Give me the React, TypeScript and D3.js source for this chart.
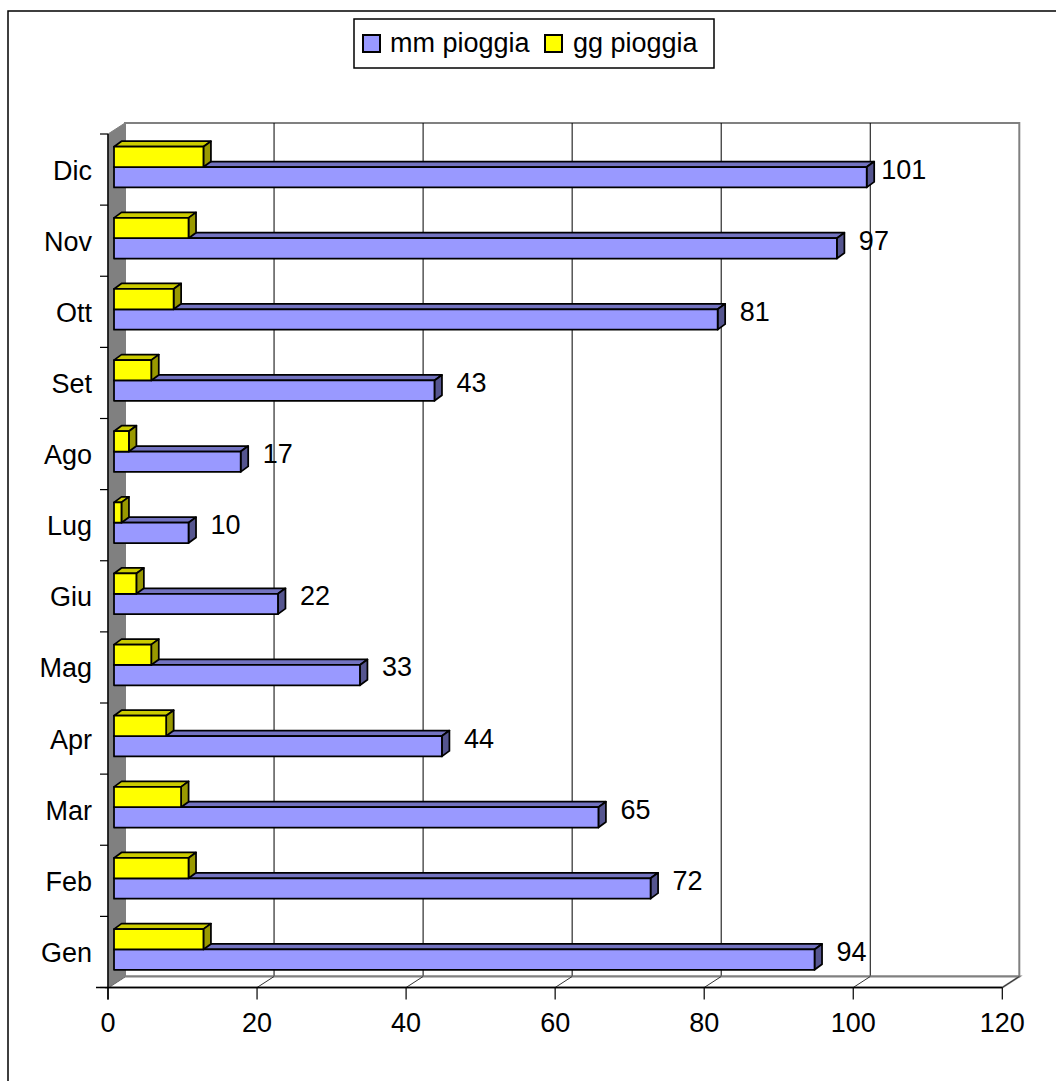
import React from "react";
import * as d3 from "d3";

// Monthly rainfall: millimetres and rainy days
const months = ["Gen", "Feb", "Mar", "Apr", "Mag", "Giu", "Lug", "Ago", "Set", "Ott", "Nov", "Dic"];
const mmPioggia = [94, 72, 65, 44, 33, 22, 10, 17, 43, 81, 97, 101];
const ggPioggia = [12, 10, 9, 7, 5, 3, 1, 2, 5, 8, 10, 12];
const xTicks = [0, 20, 40, 60, 80, 100, 120];
const seriesNames = ["mm pioggia", "gg pioggia"];

const W = 1056;
const H = 1081;
const FONT = "'Liberation Sans', Arial, sans-serif";
const FS = 27;

// oblique depth of the plot box, and of each bar inside it
const DX = 17, DY = -11;
const FX = 6, FY = -2.5;
const BX = 7.5, BY = -5.5;

const blue = { front: "#9999FF", top: "#7373C0", side: "#55558F" };
const yellow = { front: "#FFFF00", top: "#CCCC00", side: "#999900" };

type Shade = { front: string; top: string; side: string };

function Bar({ x0, x1, top, h, c }: { x0: number; x1: number; top: number; h: number; c: Shade }) {
  const pts = (a: number[][]) => a.map((p) => p.join(",")).join(" ");
  return (
    <g stroke="#000" strokeWidth={1.75} strokeLinejoin="round">
      <polygon fill={c.top} points={pts([[x0, top], [x0 + BX, top + BY], [x1 + BX, top + BY], [x1, top]])} />
      <polygon fill={c.side} points={pts([[x1, top], [x1 + BX, top + BY], [x1 + BX, top + h + BY], [x1, top + h]])} />
      <rect x={x0} y={top} width={Math.max(0, x1 - x0)} height={h} fill={c.front} />
    </g>
  );
}

export default function App() {
  const x = d3.scaleLinear().domain([0, 120]).range([108, 1002.3]);
  const y = d3
    .scaleBand<string>()
    .domain(months)
    .range([987.5, 134])
    .paddingInner(1.5 / 3.5)
    .paddingOuter(0.75 / 3.5);
  const inner = d3.scaleBand<string>().domain(["gg", "mm"]).range([0, y.bandwidth()]);

  const [x0, x1] = x.range();
  const yTop = 134;
  const yBot = 987.5;
  const step = y.step();
  const boundaries = d3.range(months.length + 1).map((i) => yBot - i * step);

  return (
    <svg width={W} height={H} style={{ position: "absolute", left: 0, top: 0, background: "#fff" }} fontFamily={FONT}>
      {/* chart frame */}
      <rect x={8} y={11} width={1200} height={1200} fill="#fff" stroke="#000" strokeWidth={1.5} />

      {/* back wall */}
      <rect x={x0 + DX} y={yTop + DY} width={x1 - x0} height={yBot - yTop} fill="#fff" stroke="#808080" strokeWidth={2} />
      {xTicks.slice(1, -1).map((t) => (
        <line key={t} x1={x(t) + DX} x2={x(t) + DX} y1={yTop + DY} y2={yBot + DY} stroke="#000" strokeWidth={1} />
      ))}

      {/* floor */}
      <polygon
        points={`${x0},${yBot} ${x0 + DX},${yBot + DY} ${x1 + DX},${yBot + DY} ${x1},${yBot}`}
        fill="#fff"
        stroke="#808080"
        strokeWidth={2}
      />
      {xTicks.map((t) => (
        <line key={t} x1={x(t)} x2={x(t) + DX} y1={yBot} y2={yBot + DY} stroke="#333" strokeWidth={1} />
      ))}

      {/* side wall */}
      <polygon
        points={`${x0},${yTop} ${x0 + DX},${yTop + DY} ${x0 + DX},${yBot + DY} ${x0},${yBot}`}
        fill="#808080"
        stroke="#808080"
        strokeWidth={1}
      />

      {/* axes */}
      <line x1={x0} x2={x0} y1={yTop} y2={yBot + 12} stroke="#000" strokeWidth={1.5} />
      <line x1={x0 - 12} x2={x1} y1={yBot} y2={yBot} stroke="#000" strokeWidth={1.5} />
      {boundaries.map((b, i) => (
        <line key={i} x1={x0 - 8} x2={x0} y1={b} y2={b} stroke="#000" strokeWidth={1.2} />
      ))}
      {xTicks.map((t) => (
        <g key={t}>
          <line x1={x(t)} x2={x(t)} y1={yBot} y2={yBot + 12} stroke="#000" strokeWidth={1.2} />
          <text x={x(t)} y={1032} textAnchor="middle" fontSize={FS} fill="#000">
            {t}
          </text>
        </g>
      ))}
      {months.map((m) => (
        <text
          key={m}
          x={92}
          y={(y(m) ?? 0) + y.bandwidth() / 2 + 1}
          textAnchor="end"
          dominantBaseline="central"
          fontSize={FS}
          fill="#000"
        >
          {m}
        </text>
      ))}

      {/* bars: blue first so the yellow bar sits in front of its top face */}
      {months.map((m, i) => {
        const b = y(m) ?? 0;
        return (
          <g key={m}>
            <Bar x0={x(0) + FX} x1={x(mmPioggia[i]) + FX} top={b + (inner("mm") ?? 0) + FY} h={inner.bandwidth()} c={blue} />
            <Bar x0={x(0) + FX} x1={x(ggPioggia[i]) + FX} top={b + (inner("gg") ?? 0) + FY} h={inner.bandwidth()} c={yellow} />
            <text
              x={x(mmPioggia[i]) + FX + 37}
              y={b + y.bandwidth() / 2}
              textAnchor="middle"
              dominantBaseline="central"
              fontSize={FS}
              fill="#000"
            >
              {mmPioggia[i]}
            </text>
          </g>
        );
      })}

      {/* legend */}
      <g>
        <rect x={354} y={19} width={360} height={49} fill="#fff" stroke="#000" strokeWidth={1.5} />
        <rect x={363} y={35} width={17} height={17} fill={blue.front} stroke="#000" strokeWidth={2} />
        <text x={390} y={52} fontSize={FS} fill="#000">
          {seriesNames[0]}
        </text>
        <rect x={545} y={35} width={17} height={17} fill={yellow.front} stroke="#000" strokeWidth={2} />
        <text x={573} y={52} fontSize={FS} fill="#000">
          {seriesNames[1]}
        </text>
      </g>
    </svg>
  );
}
